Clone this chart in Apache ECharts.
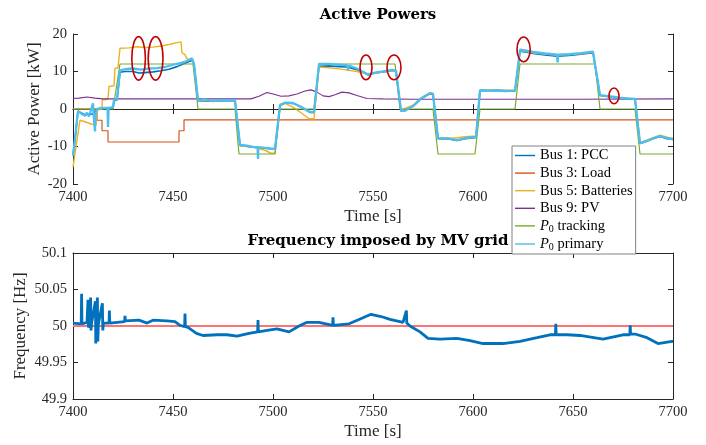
<!DOCTYPE html>
<html>
<head>
<meta charset="utf-8">
<script src="https://cdn.jsdelivr.net/npm/echarts@6/dist/echarts.min.js"></script>
<style>
  html, body { margin: 0; padding: 0; background: #fff; }
  #chart { width: 706px; height: 445px; }
</style>
</head>
<body>
<div id="chart"></div>
<script>
  // values: [time s, power kW]
  const pcc = [
    [7400, -12.3], [7401, -8], [7402.5, -0.6], [7406, -1.5], [7410, -1.3], [7412, 0], [7420, 0.3],
    [7420.5, 2.2], [7422, 2.4], [7423.5, 9.8], [7426, 10.0], [7430, 10.0], [7433, 9.6], [7436, 9.7],
    [7440, 9.9], [7444, 10.2], [7448, 10.6], [7452, 11.3], [7456, 12.2], [7459.5, 13.0], [7460.5, 12],
    [7462.5, 2.2], [7470, 2.1], [7481, 2.2], [7483.5, -9.7], [7490, -10.2], [7495, -10.4], [7501, -10.7],
    [7503.5, 0.9], [7506, 1.6], [7510, 1.5], [7514, 0.5], [7518.5, -0.9], [7520.5, -0.9], [7523, 11.4],
    [7528, 11.5], [7533, 11.3], [7537, 11.2], [7542, 10.5], [7547.5, 9.1], [7551, 9.6], [7555, 9.9],
    [7560, 10.3], [7561.5, 10.1], [7564, -0.6], [7570, 0.7], [7574, 2.7], [7578.5, 4.1], [7580, 3.9],
    [7582.5, -7.9], [7588, -8.0], [7592, -8.4], [7596, -7.9], [7601.5, -7.6], [7603.5, 4.9], [7612, 4.9],
    [7621, 4.8], [7623.5, 15.4], [7626, 15.2], [7630, 14.8], [7636, 14.4], [7642, 14.1], [7648, 14.3],
    [7654, 14.6], [7660, 15.0], [7661, 14.8], [7663.5, 3.6], [7668, 3.3], [7673, 2.9], [7681, 2.6],
    [7683.5, -9.2], [7687, -8.6], [7690, -7.9], [7693.5, -7.3], [7697, -7.9], [7700, -8.1]
  ]
  const load = [
    [7400, 0], [7412, 0], [7412.01, -3], [7414.5, -3], [7414.51, -5.8], [7417.5, -5.8], [7417.51, -8.8],
    [7453, -8.8], [7453.01, -5.8], [7455.5, -5.8], [7455.51, -2.9], [7700, -2.9]
  ]
  const batteries = [
    [7400, -15.5], [7401.5, -10], [7403.5, -3], [7406, -3.4], [7409, -4], [7411.5, -4.3], [7412, -0.3],
    [7414.5, 0], [7414.6, 2.4], [7417.5, 2.6], [7418, 6], [7420.5, 6.2], [7421, 10.8], [7422.5, 11],
    [7423.5, 16.2], [7428, 16.3], [7432, 16.6], [7436, 16.4], [7440, 16.5], [7444, 16.8], [7448, 17.2],
    [7452, 17.7], [7454, 17.9], [7454.5, 15], [7456, 14.5], [7457, 13.3], [7459.5, 13.3], [7460.5, 12],
    [7462.5, 2.3], [7470, 2.2], [7481, 2.2], [7483.5, -9.8], [7488, -10], [7492, -10.4], [7496, -11],
    [7499, -11.8], [7501, -11.8], [7503.5, 1.3], [7506, 1.5], [7510, 0.5], [7514, -1], [7518, -2.6],
    [7520.5, -2.6], [7523, 11.2], [7528, 11.0], [7533, 10.7], [7538, 10.3], [7542, 10.0], [7547, 9.4],
    [7551, 9.6], [7555, 9.9], [7560, 10.2], [7561.5, 10.1], [7564, -0.3], [7570, 1], [7574, 3],
    [7578.5, 4.4], [7580, 4.2], [7582.5, -7.6], [7590, -7.8], [7596, -7.4], [7601.5, -7.2], [7603.5, 5.1],
    [7612, 5], [7621, 5], [7623.5, 15.6], [7630, 15], [7642, 14.3], [7654, 14.7], [7660, 15.2], [7661, 15],
    [7663.5, 3.6], [7673, 3], [7681, 2.7], [7683.5, -9], [7693.5, -7], [7700, -7.9]
  ]
  const pv = [
    [7400, 2.8], [7403, 2.9], [7407, 3.2], [7411, 2.9], [7415, 2.7], [7440, 2.7], [7470, 2.7], [7489, 2.7],
    [7493, 3.4], [7497, 4.4], [7500, 4.0], [7504, 3.4], [7508, 3.5], [7512, 4], [7516, 4.8], [7519, 5.1],
    [7522, 4.5], [7525, 3.5], [7528, 3.3], [7531, 3.8], [7534.5, 4.5], [7538, 4.3], [7542, 3.6], [7547, 2.8],
    [7555, 2.7], [7570, 2.6], [7600, 2.6], [7650, 2.6], [7700, 2.7]
  ]
  const tracking = [
    [7400, 0], [7420, 0], [7423.5, 12], [7460, 12], [7462.5, 0], [7481, 0], [7483, -12], [7501, -12],
    [7503.5, 0], [7520.5, 0], [7523, 12], [7561, 12], [7563.5, 0], [7580, 0], [7582.5, -12], [7601, -12],
    [7603.5, 0], [7621, 0], [7623.5, 12], [7661, 12], [7663.5, 0], [7681, 0], [7683.5, -12], [7700, -12]
  ]
  const primary = [
    [7400, -12.5], [7401, -8], [7402.5, -0.5], [7404, -1.2], [7406, -1.8], [7407, -1.0], [7408, -2],
    [7409, -1.5], [7410, 1.5], [7410.3, -1.5], [7411, -6], [7411.3, -1.5], [7412, 0], [7414, 0.3],
    [7417.3, 0.3], [7417.5, -4.8], [7417.8, 0.3], [7420, 0.5], [7420.5, 2.4], [7422, 2.6], [7423.5, 10.3],
    [7426, 10.6], [7430, 10.8], [7434, 10.5], [7438, 10.8], [7442, 10.9], [7446, 11.2], [7450, 11.8],
    [7454, 12.3], [7457, 12.8], [7459.5, 13.5], [7460.5, 12], [7462.5, 2.3], [7466, 2.6], [7470, 2.1],
    [7474, 2.4], [7478, 2.2], [7481, 2.3], [7483.5, -9.6], [7487, -9.8], [7490, -10.1], [7492.3, -10.2],
    [7492.5, -13.3], [7492.7, -10.2], [7495, -10.3], [7499, -10.6], [7501, -10.6], [7503.5, 1.0],
    [7506, 1.7], [7510, 1.6], [7514, 0.6], [7518.5, -0.8], [7520.5, -0.8], [7523, 12.0], [7528, 12.0],
    [7533, 11.8], [7537, 11.7], [7537.5, 10.3], [7538, 11.6], [7542, 10.8], [7547.5, 9.2], [7551, 9.7],
    [7555, 10.0], [7560, 10.4], [7561.5, 10.2], [7564, -0.5], [7566, -0.5], [7570, 0.8], [7574, 2.8],
    [7578.5, 4.2], [7580, 4.0], [7582.5, -7.8], [7588, -7.9], [7592, -8.3], [7596, -7.8], [7600, -7.5],
    [7601.5, -7.5], [7603.5, 5.0], [7608, 4.9], [7612, 5.0], [7616, 4.8], [7621, 4.9], [7623.5, 15.8],
    [7626, 15.6], [7630, 15.2], [7636, 14.8], [7642, 14.5], [7642.3, 12.4], [7642.6, 14.5], [7648, 14.6],
    [7654, 14.9], [7660, 15.3], [7661, 15], [7663.5, 3.7], [7668, 3.4], [7673, 3.0], [7677, 2.8],
    [7681, 2.7], [7683.5, -9.1], [7687, -8.5], [7690, -7.8], [7693.5, -7.2], [7697, -7.8], [7700, -8.0]
  ]
  // red ellipses: [time, power, half width s, half height kW]
  const marks = [
    [7432.8, 13.5, 3.4, 5.8], [7441.3, 13.5, 3.7, 5.8], [7546.5, 11.1, 3, 3.3],
    [7560.5, 11.1, 3.5, 3.3], [7625.3, 15.9, 3.3, 3.3], [7670.5, 3.5, 2.5, 2.1]
  ]
  // frequency [time s, Hz]
  const freq = [
    [7400, 50.004], [7404.1, 50.003], [7404.3, 50.044], [7404.5, 50.003], [7407, 50.005], [7407.5, 50.036],
    [7407.7, 49.998], [7408.5, 50.005], [7408.8, 50.039], [7409, 49.994], [7409.3, 50.004], [7411.2, 50.034],
    [7411.4, 49.976], [7411.6, 50.004], [7412.2, 50.039], [7412.4, 49.979], [7412.7, 50.003], [7414.7, 50.031],
    [7414.9, 49.994], [7415.2, 50.004], [7418, 50.004], [7418.2, 50.021], [7418.4, 50.004], [7422, 50.005],
    [7425.8, 50.006], [7426, 50.014], [7426.2, 50.007], [7427, 50.008], [7433, 50.008], [7437, 50.004],
    [7440, 50.008], [7447, 50.007], [7451, 50.006], [7453.5, 50.001], [7455.8, 49.999], [7456, 50.017],
    [7456.2, 49.999], [7457.5, 49.998], [7461.7, 49.990], [7465, 49.987], [7472, 49.988], [7477, 49.988],
    [7482, 49.986], [7488, 49.990], [7492.3, 49.992], [7492.5, 50.008], [7492.7, 49.992], [7497, 49.994],
    [7502, 49.996], [7508, 49.992], [7513, 50.0], [7517, 50.005], [7523, 50.005], [7529.8, 50.001],
    [7530, 50.012], [7530.2, 50.001], [7538, 50.003], [7543, 50.009], [7549, 50.016], [7554, 50.013],
    [7558.5, 50.009], [7565, 50.005], [7566.7, 50.021], [7566.9, 50.004], [7568.5, 50.0], [7573.5, 49.992],
    [7577.5, 49.983], [7583.5, 49.982], [7592, 49.983], [7598.5, 49.980], [7605, 49.976], [7615, 49.976],
    [7623.5, 49.979], [7632, 49.984], [7638.5, 49.988], [7641.2, 49.988], [7641.4, 50.003], [7641.6, 49.988],
    [7647, 49.988], [7653.5, 49.987], [7665, 49.982], [7675, 49.988], [7678.4, 49.988], [7678.6, 50.001],
    [7678.8, 49.989], [7681, 49.989], [7687, 49.984], [7692.5, 49.976], [7699.5, 49.979], [7700, 49.979]
  ]
  const nominal = [[7400, 50], [7700, 50]]

  const serif = 'Liberation Serif'
  const ink = '#262626'

  function xAx(grid, pos, labels, name) {
    return {
      type: 'value', gridIndex: grid, position: pos, min: 7400, max: 7700, interval: 50,
      axisLine: { show: true, lineStyle: { color: ink, width: 1 } },
      axisTick: { show: true, inside: true, length: 5, lineStyle: { color: ink } },
      axisLabel: { show: labels, color: ink, fontFamily: serif, fontSize: 14.5, margin: 6, formatter: (v) => String(v) },
      splitLine: { show: false },
      name: name, nameLocation: 'middle', nameGap: 24, nameMoveOverlap: false,
      nameTextStyle: { color: ink, fontFamily: serif, fontSize: 17 }
    }
  }
  function yAx(grid, pos, labels, min, max, interval, name, gap, fmt) {
    return {
      type: 'value', gridIndex: grid, position: pos, min: min, max: max, interval: interval,
      axisLine: { show: true, lineStyle: { color: ink, width: 1 } },
      axisTick: { show: true, inside: true, length: 5, lineStyle: { color: ink } },
      axisLabel: { show: labels, color: ink, fontFamily: serif, fontSize: 14.5, margin: 6, formatter: fmt },
      splitLine: { show: false },
      name: name, nameLocation: 'middle', nameGap: gap, nameMoveOverlap: false,
      nameTextStyle: { color: ink, fontFamily: serif, fontSize: 17 }
    }
  }
  function line(name, data, color, width, x, y) {
    return {
      name: name, type: 'line', data: data, xAxisIndex: x, yAxisIndex: y,
      symbol: 'none', lineStyle: { color: color, width: width }, itemStyle: { color: color }
    }
  }

  const myChart = echarts.init(document.getElementById('chart'))
  const option = {
    animation: false,
    backgroundColor: '#fff',
    title: [
      { text: 'Active Powers', left: 373, top: 3, textAlign: 'center',
        textStyle: { fontFamily: 'DejaVu Serif', fontWeight: 'bold', fontSize: 15, color: '#000' } },
      { text: 'Frequency imposed by MV grid', left: 373, top: 229, textAlign: 'center',
        textStyle: { fontFamily: 'DejaVu Serif', fontWeight: 'bold', fontSize: 15, color: '#000' } }
    ],
    grid: [
      { left: 73, right: 33, top: 34, height: 150 },
      { left: 73, right: 33, top: 253, height: 146 }
    ],
    legend: {
      z: 20, orient: 'vertical', left: 512, top: 146,
      padding: [2, 3, 2, 3], itemGap: 2.6, itemWidth: 20, itemHeight: 14,
      icon: 'path://M0 0H20V1.4H0Z',
      backgroundColor: '#fff', borderColor: '#808080', borderWidth: 1, borderRadius: 0,
      data: ['Bus 1: PCC', 'Bus 3: Load', 'Bus 5: Batteries', 'Bus 9: PV', 'P0 tracking', 'P0 primary'],
      formatter: (n) => n.startsWith('P0') ? '{p|P}{s|0}' + n.slice(2) : n,
      textStyle: {
        fontFamily: serif, fontSize: 14.5, color: '#000',
        rich: {
          p: { fontFamily: serif, fontStyle: 'italic', fontSize: 14.5, color: '#000', lineHeight: 16 },
          s: { fontFamily: serif, fontSize: 10, color: '#000', lineHeight: 10, verticalAlign: 'bottom' }
        }
      }
    },
    xAxis: [xAx(0, 'bottom', true, 'Time [s]'), xAx(0, 'top', false, ''),
            xAx(1, 'bottom', true, 'Time [s]'), xAx(1, 'top', false, '')],
    yAxis: [
      yAx(0, 'left', true, -20, 20, 10, 'Active Power [kW]', 30),
      yAx(0, 'right', false, -20, 20, 10, '', 0),
      yAx(1, 'left', true, 49.9, 50.1, 0.05, 'Frequency [Hz]', 44, (v) => String(parseFloat(v.toFixed(2)))),
      yAx(1, 'right', false, 49.9, 50.1, 0.05, '', 0)
    ],
    series: [
      line('Bus 1: PCC', pcc, '#0072BD', 1.6, 0, 0),
      line('Bus 3: Load', load, '#D95319', 1.2, 0, 0),
      line('Bus 5: Batteries', batteries, '#EDB120', 1.4, 0, 0),
      line('Bus 9: PV', pv, '#7E2F8E', 1.1, 0, 0),
      line('P0 tracking', tracking, '#77AC30', 1.2, 0, 0),
      line('P0 primary', primary, '#4DBEEE', 2.3, 0, 0),
      {
        type: 'custom', xAxisIndex: 0, yAxisIndex: 0, data: marks, z: 5,
        renderItem: (params, api) => {
          const c = api.coord([api.value(0), api.value(1)])
          const s = api.size([api.value(2), api.value(3)])
          return {
            type: 'ellipse',
            shape: { cx: c[0], cy: c[1], rx: s[0], ry: s[1] },
            style: { fill: 'none', stroke: '#C00000', lineWidth: 1.6 }
          }
        }
      },
      line('nominal', nominal, '#FF7373', 2, 2, 2),
      line('frequency', freq, '#0072BD', 2.8, 2, 2)
    ]
  }
  myChart.setOption(option)
</script>
</body>
</html>
